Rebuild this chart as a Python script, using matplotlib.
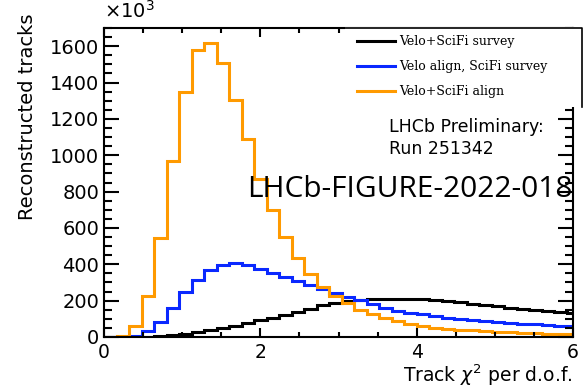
import numpy as np
import matplotlib
matplotlib.use('Agg')
import matplotlib.pyplot as plt
from matplotlib.patches import Rectangle
from matplotlib.lines import Line2D

# bin edges of the chi2/ndf histograms (width 0.16)
edges = np.round(np.arange(0, 6.09, 0.16), 2)

survey = [0, 0, 0, 2, 6, 10, 15, 27, 37, 50, 62, 77, 92, 105, 119, 137, 156, 174, 187,
          198, 203, 207, 209, 211, 210, 209, 205, 199, 192, 184, 176, 168, 160, 154, 147,
          141, 136, 133]
velo_align = [0, 0, 3, 35, 80, 157, 245, 315, 370, 397, 405, 394, 376, 353, 332, 306,
              285, 265, 240, 220, 201, 180, 160, 145, 134, 124, 115, 107, 100, 94, 88, 83,
              78, 74, 70, 66, 63, 60]
full_align = [0, 8, 60, 225, 545, 967, 1350, 1580, 1617, 1506, 1302, 1088, 870, 696, 549,
              433, 345, 277, 225, 186, 150, 128, 104, 86, 73, 60, 52, 46, 41, 37, 33, 29,
              26, 23, 20, 18, 16, 14]

labels = ['Velo+SciFi survey', 'Velo align, SciFi survey', 'Velo+SciFi align']
colors = ['black', '#0a28ff', '#ff9a00']

plt.rcParams['font.family'] = 'DejaVu Sans'

W, H = 588, 389
fig = plt.figure(figsize=(W / 100, H / 100), dpi=100)
ax = fig.add_axes([104 / W, 1 - 337 / H, 469 / W, 309 / H])

for vals, col, lab in zip([survey, velo_align, full_align], colors, labels):
    ax.stairs(vals, edges, color=col, lw=2.2, label=lab, baseline=None)

ax.set_xlim(0, 6)
ax.set_ylim(0, 1700)
ax.set_xticks([0, 2, 4, 6])
ax.set_xticks(np.arange(0, 6.01, 0.5), minor=True)
ax.set_yticks(np.arange(0, 1601, 200))
ax.set_yticks(np.arange(0, 1701, 50), minor=True)
ax.tick_params(which='both', direction='in', top=True, right=True, labelsize=14, width=1.5)
ax.tick_params(axis='x', which='major', length=6.5, pad=4, labelsize=13.5)
ax.tick_params(axis='x', which='minor', length=3.4)
ax.tick_params(axis='y', which='major', length=10.5, pad=3.5)
ax.tick_params(axis='y', which='minor', length=5.5)
for s in ax.spines.values():
    s.set_linewidth(1.5)

ax.set_xlabel('Track $\\chi^2$ per d.o.f.', fontsize=13.5, ha='right', va='baseline')
ax.xaxis.set_label_coords(1.0, -(382 - 337) / 309)
ax.set_ylabel('Reconstructed tracks', fontsize=14, va='center')
ax.yaxis.set_label_coords((27.5 - 104) / 469, (337 - 116.5) / 309)
ax.text(0, 1.02, '$\\times10^3$', transform=ax.transAxes, fontsize=14, va='bottom')

# legend pad: white box with top and right border
fig.add_artist(Rectangle((345 / W, 1 - 107 / H), 237 / W, 80 / H, transform=fig.transFigure,
                         facecolor='white', edgecolor='none'))
fig.add_artist(Line2D([345 / W, 582 / W, 582 / W], [1 - 27.5 / H, 1 - 27.5 / H, 1 - 107 / H],
                      transform=fig.transFigure, color='black', lw=1.2))

handles, labs = ax.get_legend_handles_labels()
fig.legend(handles, labs, loc='upper left', bbox_to_anchor=(357 / W, 1 - 35.5 / H),
           frameon=False, borderpad=0, borderaxespad=0, handlelength=3.0,
           handletextpad=0.4, labelspacing=0.95,
           prop={'family': 'DejaVu Serif', 'size': 9})

ax.text((389 - 104) / 469, (337 - 131.7) / 309, 'LHCb Preliminary:', transform=ax.transAxes,
        fontsize=12.5, va='baseline')
ax.text((389 - 104) / 469, (337 - 154) / 309, 'Run 251342', transform=ax.transAxes,
        fontsize=12.5, va='baseline')
ax.text((247 - 104) / 469, (337 - 197) / 309, 'LHCb-FIGURE-2022-018', transform=ax.transAxes,
        family='Open Sans', fontsize=21.5, va='baseline')

fig.savefig('out.png', dpi=100)
